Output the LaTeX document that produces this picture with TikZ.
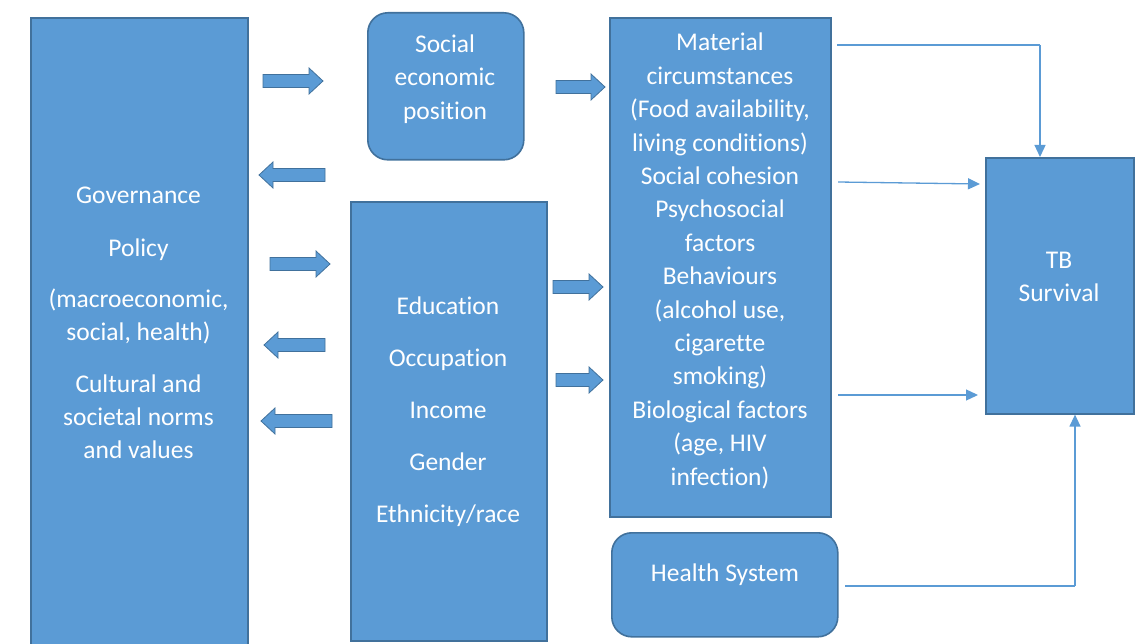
\documentclass[tikz,border=0pt]{standalone}
\usepackage{fontspec}
\setmainfont{Carlito}[Ligatures={NoCommon}]
\usetikzlibrary{arrows.meta}
\definecolor{boxfill}{HTML}{5B9BD5}
\definecolor{boxline}{HTML}{41719C}
\definecolor{linkc}{HTML}{5B9BD5}
\newcommand\blockR[3]{\filldraw[barrow] (#1,#3-6.5) -- (#2-14,#3-6.5) -- (#2-14,#3-13) -- (#2,#3) -- (#2-14,#3+13) -- (#2-14,#3+6.5) -- (#1,#3+6.5) -- cycle;}
\newcommand\blockL[3]{\filldraw[barrow] (#2,#3-6.5) -- (#1+14,#3-6.5) -- (#1+14,#3-13) -- (#1,#3) -- (#1+14,#3+13) -- (#1+14,#3+6.5) -- (#2,#3+6.5) -- cycle;}
\begin{document}
\begin{tikzpicture}[x=1pt,y=-1pt,
  box/.style={draw=boxline,fill=boxfill,line width=1.6pt,inner sep=0pt,anchor=north west},
  rbox/.style={box,rounded corners=20pt},
  txt/.style={text=white,align=center,inner sep=0pt,font=\fontsize{25.5}{33.4}\selectfont},
  barrow/.style={draw=boxline,fill=boxfill,line width=0.8pt,line join=miter},
  link/.style={draw=linkc,line width=1.3pt,-{Triangle[length=12pt,width=11pt]}},
  plain/.style={draw=linkc,line width=1.3pt}]
\useasboundingbox (0,0) rectangle (1140,644);
\begin{scope}
\clip (0,0) rectangle (1140,644);
\node[box,minimum width=217pt,minimum height=640pt] (gov) at (30,17) {};
\end{scope}
\node[rbox,minimum width=156pt,minimum height=147pt] (sep) at (367,12) {};
\node[box,minimum width=196pt,minimum height=439pt] (edu) at (350,201) {};
\node[box,minimum width=221pt,minimum height=499pt] (mat) at (609,17) {};
\node[box,minimum width=148pt,minimum height=256pt] (tb) at (985,157) {};
\node[rbox,minimum width=226pt,minimum height=104pt] (hs) at (611,532) {};
% texts
\node[txt] (govt) at (138.5,323) {Governance\\[20pt]Policy\\[17pt](macroeconomic,\\social, health)\\[18pt]Cultural and\\societal norms\\and values};
\node[txt] (sept) at (445,79) {Social\\economic\\position};
\node[txt] (edut) at (448,411.5) {Education\\[18.5pt]Occupation\\[18.5pt]Income\\[18.5pt]Gender\\[18.5pt]Ethnicity/race};
\node[txt] (matt) at (720,261) {Material\\circumstances\\(Food availability,\\living conditions)\\Social cohesion\\Psychosocial\\factors\\Behaviours\\(alcohol use,\\cigarette\\smoking)\\Biological factors\\(age, HIV\\infection)};
\node[txt] (tbt) at (1059,277) {TB\\Survival};
\node[txt] (hst) at (725,575) {Health System};
% block arrows
\blockR{263}{323}{81}
\blockL{259}{325}{175}
\blockR{270}{330}{264}
\blockL{264}{325}{345}
\blockL{261}{332}{421}
\blockR{556}{605}{87}
\blockR{553}{603}{287}
\blockR{556}{603}{380}
% thin connectors
\coordinate (c1) at (837,45);
\coordinate (c2) at (1040,45);
\draw[plain] (c1) -- (c2);
\draw[link] (c2) -- (c2 |- tb.north);
\coordinate (c3) at (838,182);
\draw[link] (c3) -- (980,184);
\coordinate (c4) at (838,395);
\draw[link] (c4) -- (978,395);
\coordinate (c5) at (845,586);
\coordinate (c6) at (1075,586);
\draw[plain] (c5) -- (c6);
\draw[link] (c6) -- (c6 |- tb.south);
\end{tikzpicture}
\end{document}
